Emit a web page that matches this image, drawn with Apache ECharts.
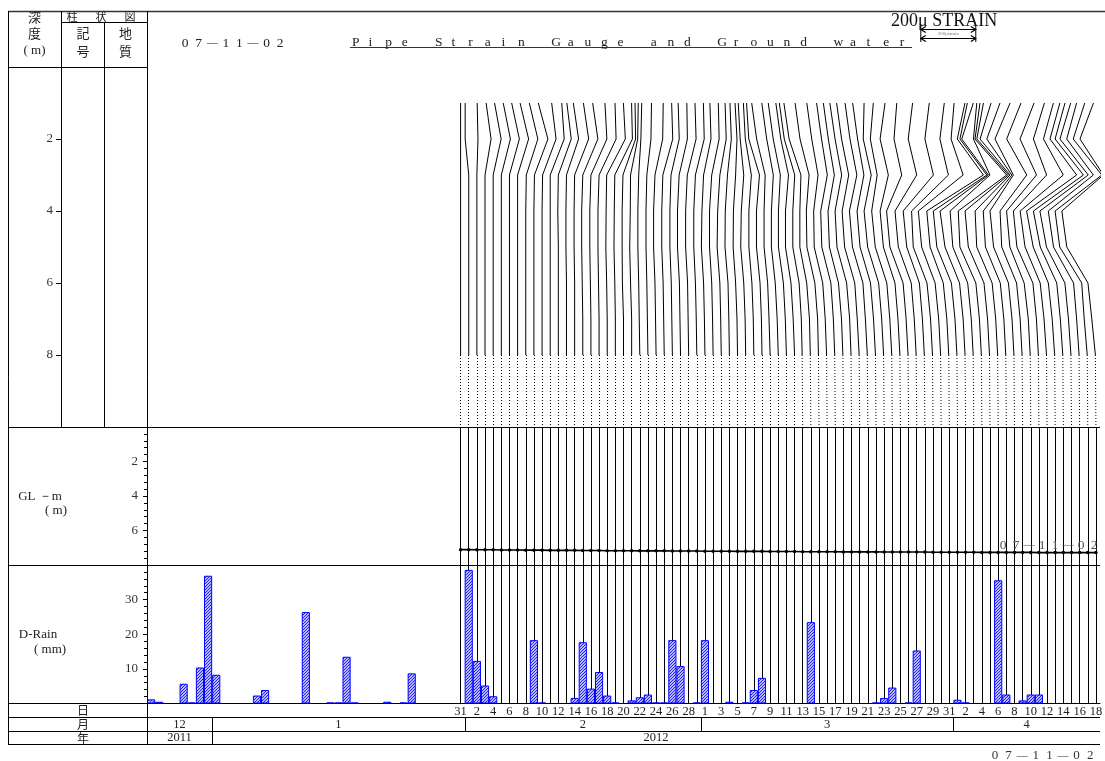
<!DOCTYPE html>
<html><head><meta charset="utf-8">
<script src="https://cdn.jsdelivr.net/npm/echarts@6/dist/echarts.min.js"></script>
<style>html,body{margin:0;padding:0;background:#fff}#c{width:1105px;height:761px}</style>
</head><body><div id="c"></div>
<script>
// ---------------- data ----------------
const startYear = 2011, startMonth = 11, startDay = 24;   // 2011-12-24 (JS month 11 = Dec)
const dayCount = 117;                                      // through 2012-04-18
const strainStart = 38;                                    // day index of 2012-01-31, first gauge reading
const gaugeDepths = [1, 2, 3, 4, 5, 6, 7, 8];              // m
const baseDepth = 10;                                      // m
const scale200uDays = 6.75;                                // width of 200 micro-strain in day units
const scaleStartDay = 95.0;

// daily rainfall (mm), 2011-12-24 ... 2012-04-18
const rain = [1.2,0.5,0,0,5.7,0.3,10.4,36.9,8.3,0,
  0,0,0,2.3,3.9,0,0,0,0,26.4,
  0,0,0.3,0.3,13.5,0.3,0,0,0,0.5,
  0,0.3,8.7,0,0,0,0,0,0,38.6,
  12.3,5.2,2.1,0,0,0,0,18.3,0.3,0,
  0,0,1.6,17.7,4.3,9.1,2.3,0.3,0,0.9,
  1.8,2.6,0.3,0.3,18.3,10.8,0,0.3,18.3,0,
  0,0.5,0,0.3,3.9,7.4,0,0,0,0,
  0,23.5,0,0,0,0,0,0,0,0.3,
  1.6,4.6,0,0.3,15.3,0,0,0,0,1.1,
  0.3,0,0,0,35.6,2.6,0,0.9,2.6,2.6,
  0,0,0,0,0,0,0];

// ground water level (GL -m), one per reading day 2012-01-31 ... 2012-04-18
const groundWater = [7.11,7.11,7.12,7.12,7.12,7.13,7.13,7.13,7.14,7.14,
  7.14,7.15,7.15,7.15,7.15,7.16,7.16,7.16,7.17,7.17,
  7.17,7.17,7.18,7.18,7.18,7.18,7.19,7.19,7.19,7.19,
  7.20,7.20,7.20,7.20,7.21,7.21,7.21,7.21,7.22,7.22,
  7.22,7.22,7.23,7.23,7.23,7.23,7.23,7.24,7.24,7.24,
  7.24,7.24,7.25,7.25,7.25,7.25,7.25,7.25,7.26,7.26,
  7.26,7.26,7.26,7.26,7.27,7.27,7.27,7.27,7.27,7.27,
  7.27,7.28,7.28,7.28,7.28,7.28,7.28,7.28,7.28];

// pipe strain (micro strain) per gauge depth, one value per reading day
const strain1m = [0,-13,1,4,5,7,8,9,13,16, 35,42,31,25,32,36,51,58,59,59, 42,24,7,13,26,27,21,23,23,24,
  18,19,14,2,-9,-27,-38,-56,-67,-60, -66,-68,-85,-98,-87,-74,-68,-73,-79,-84, -83,-85,-73,-69,-56,-43,-15,16,41,47,
  57,36,28,11,-7,-24,-26,-23,-16,-6, 12,20,23,17,6,-3,-11,-11,-9];
const strain2m = [0,-13,4,22,29,33,36,40,44,51, 51,51,47,44,51,55,58,62,66,62, 44,22,4,11,24,31,25,25,27,27,
  22,22,18,7,-2,-20,-31,-48,-49,-42, -48,-50,-67,-79,-69,-56,-50,-55,-60,-66, -65,-67,-76,-80,-74,-53,-31,0,25,36,
  29,9,-14,-1,-25,-48,-66,-71,-71,-58, -39,-20,-13,-19,-30,-42,-47,-53,-58];
const strain3m = [0,0,0,0,0,0,0,0,2,2, 2,0,0,0,0,0,0,0,-2,-2, -2,-4,-4,-4,-4,-5,-5,-5,-5,-5,
  -5,-5,-5,-7,-7,-7,-9,-9,-18,-18, -22,-22,-29,-36,-36,-33,-29,-33,-36,-40, -40,-44,-47,-55,-44,-25,0,31,56,80,
  124,107,83,59,90,67,43,20,-4,15, 21,28,59,78,73,61,50,51,27];
const strain4m = [0,0,0,0,0,0,0,0,0,0, 0,0,-2,-2,-2,-4,-4,-4,-4,-4, -5,-5,-7,-7,-9,-9,-9,-11,-11,-11,
  -11,-13,-13,-15,-15,-16,-18,-20,-22,-25, -29,-33,-36,-40,-46,-49,-53,-56,-60,-64, -67,-69,-73,-75,-74,-80,-79,-79,-78,-83,
  -82,-88,-93,-86,-86,-91,-84,-84,-89,-82, -88,-93,-98,-104,-109,-115,-114,-119,-124];
const strain5m = [0,0,0,0,0,0,0,0,0,0, 0,0,0,-2,-2,-4,-4,-4,-5,-5, -5,-7,-7,-7,-9,-9,-9,-11,-11,-11,
  -13,-13,-15,-16,-16,-18,-18,-20,-22,-25, -29,-33,-36,-40,-44,-47,-49,-51,-53,-55, -56,-58,-60,-62,-62,-68,-67,-66,-72,-71,
  -70,-75,-75,-76,-80,-79,-78,-76,-76,-76, -76,-80,-80,-80,-84,-91,-95,-102,-106];
const strain6m = [0,0,0,0,0,0,0,0,0,0, 0,0,0,0,0,-2,-2,-2,-2,-2, -4,-4,-4,-4,-4,-4,-4,-4,-4,-5,
  -5,-5,-5,-5,-7,-7,-7,-7,-9,-11, -11,-13,-13,-15,-15,-16,-16,-18,-18,-18, -18,-20,-20,-20,-20,-20,-20,-20,-22,-22,
  -22,-22,-22,-22,-22,-22,-22,-22,-22,-22, -24,-22,-25,-25,-24,-24,-22,-22,-29];
const strain7m = [0,0,0,0,0,0,0,0,0,0, 0,0,0,0,0,0,0,0,0,0, 0,0,-2,-2,-2,-2,-2,-2,-2,-2,
  -2,-2,-2,-2,-2,-2,-2,-2,-4,-4, -4,-5,-5,-5,-5,-7,-7,-7,-7,-9, -9,-9,-9,-9,-9,-9,-9,-9,-9,-9,
  -9,-9,-9,-9,-9,-9,-9,-9,-9,-9, -9,-9,-11,-11,-11,-11,-11,-13,-15];
const strain8m = [0,0,0,0,0,0,0,0,0,0, 0,0,0,0,0,0,0,0,0,0, 0,0,0,0,0,0,0,0,0,0,
  0,0,0,0,0,0,0,0,0,0, 0,0,-2,-2,-2,-2,-2,-2,-2,-2, -2,-2,-2,-2,-2,-2,-2,-2,-2,-2,
  -2,-2,-2,-2,-2,-2,-2,-2,-2,-2, -2,-2,-2,-2,-2,-2,-2,-2,-2];

const depthTicks = {min: 0, max: 10, interval: 2};
const gwTicks = {min: 0, max: 8, interval: 2};
const rainTicks = {min: 0, max: 40, interval: 10};
const titleCode = ['0','7','—','1','1','—','0','2'];
const titleText = 'Pipe Strain Gauge and Ground water';

// ---------------- derived ----------------
const dates = [];
for (let i = 0; i < dayCount; i++) dates.push(new Date(startYear, startMonth, startDay + i));
const dayLabels = dates.map(d => String(d.getDate()));
function spans(keyFn) {
  const out = [];
  dates.forEach((d, i) => {
    const k = keyFn(d);
    if (!out.length || out[out.length - 1].label !== k) out.push({label: k, start: i, end: i + 1});
    else out[out.length - 1].end = i + 1;
  });
  return out;
}
const monthSpans = spans(d => String(d.getMonth() + 1));
const yearSpans = spans(d => String(d.getFullYear()));

const strainByDepth = [strain1m, strain2m, strain3m, strain4m, strain5m, strain6m, strain7m, strain8m];
const lineX = j => strainStart + j + 0.5;
const toX = (j, u) => lineX(j) + u / 200 * scale200uDays;
const solidLines = [], dottedLines = [], gwVert = [], rainVert = [];
for (let j = 0; j < strain1m.length; j++) {
  const coords = gaugeDepths.map((d, k) => [toX(j, strainByDepth[k][j]), d]);
  solidLines.push({coords});
  dottedLines.push({coords: [coords[coords.length - 1], [lineX(j), baseDepth]]});
  gwVert.push({coords: [[lineX(j), gwTicks.min], [lineX(j), gwTicks.max]]});
  rainVert.push({coords: [[lineX(j), rainTicks.min], [lineX(j), rainTicks.max]]});
}

// hatch pattern for rain bars
const hatch = document.createElement('canvas');
hatch.width = 3; hatch.height = 3;
(function () {
  const g = hatch.getContext('2d');
  g.fillStyle = '#b8b8ff'; g.fillRect(0, 0, 3, 3);
  g.fillStyle = '#2222ff';
  g.fillRect(0, 2, 1, 1); g.fillRect(1, 1, 1, 1); g.fillRect(2, 0, 1, 1);
})();

const SERIF = '"Liberation Serif","DejaVu Serif",serif';
const JP = '"Noto Sans CJK JP",sans-serif';
const labelStyle = {fontFamily: SERIF, fontSize: 13, color: '#333'};

function rowRender(list) {
  return function (params, api) {
    const a = api.coord([api.value(0), 1]);
    const b = api.coord([api.value(1), 0]);
    const ch = [];
    if (api.value(0) > 0) {
      const x = Math.round(a[0]) + 0.5;
      ch.push({type: 'line', shape: {x1: x, y1: a[1], x2: x, y2: b[1]}, style: {stroke: '#000', lineWidth: 1}});
    }
    ch.push({type: 'text', style: {text: list[params.dataIndex].label, x: (a[0] + b[0]) / 2, y: (a[1] + b[1]) / 2 + 0.5,
      font: '12.5px ' + SERIF, fill: '#222', align: 'center', verticalAlign: 'middle', textAlign: 'center', textVerticalAlign: 'middle'}});
    return {type: 'group', children: ch};
  };
}

const gridBase = {left: 147, width: 953, containLabel: false, outerBoundsMode: 'none'};
const option = {
  animation: false,
  backgroundColor: '#fff',
  grid: [
    Object.assign({top: 67, height: 360}, gridBase),
    Object.assign({top: 427, height: 138}, gridBase),
    Object.assign({top: 565, height: 138.5}, gridBase),
    Object.assign({top: 717, height: 14}, gridBase),
    Object.assign({top: 731, height: 13}, gridBase),
    {left: 61, width: 86, top: 67, height: 360, containLabel: false, outerBoundsMode: 'none'}   // depth scale column
  ],
  xAxis: [
    {gridIndex: 0, type: 'value', min: 0, max: dayCount, show: false},
    {gridIndex: 1, type: 'value', min: 0, max: dayCount, show: false},
    {gridIndex: 2, type: 'category', data: dayLabels, boundaryGap: true, position: 'bottom',
      axisLine: {lineStyle: {color: '#000', width: 1}}, axisTick: {show: false},
      axisLabel: {interval: (i) => i >= strainStart && (i - strainStart) % 2 === 0, margin: 2,
        fontFamily: SERIF, fontSize: 12.5, color: '#222'}},
    {gridIndex: 2, type: 'value', min: 0, max: dayCount, show: false, position: 'top'},
    {gridIndex: 3, type: 'value', min: 0, max: dayCount, show: false},
    {gridIndex: 4, type: 'value', min: 0, max: dayCount, show: false},
    {gridIndex: 5, type: 'value', min: 0, max: 1, show: false}
  ],
  yAxis: [
    {gridIndex: 0, type: 'value', min: depthTicks.min, max: depthTicks.max, inverse: true, show: false},
    {gridIndex: 1, type: 'value', min: gwTicks.min, max: gwTicks.max, interval: gwTicks.interval, inverse: true,
      axisLine: {show: true, lineStyle: {color: '#000'}}, axisTick: {show: true, length: 4, lineStyle: {color: '#000'}},
      minorTick: {show: true, splitNumber: 5, length: 3, lineStyle: {color: '#000'}},
      splitLine: {show: false},
      axisLabel: Object.assign({margin: 9, formatter: v => (v === gwTicks.min || v === gwTicks.max) ? '' : String(v)}, labelStyle)},
    {gridIndex: 2, type: 'value', min: rainTicks.min, max: rainTicks.max, interval: rainTicks.interval,
      axisLine: {show: true, lineStyle: {color: '#000'}}, axisTick: {show: true, length: 4, lineStyle: {color: '#000'}},
      minorTick: {show: true, splitNumber: 5, length: 3, lineStyle: {color: '#000'}},
      splitLine: {show: false},
      axisLabel: Object.assign({margin: 9, formatter: v => (v === rainTicks.min || v === rainTicks.max) ? '' : String(v)}, labelStyle)},
    {gridIndex: 3, type: 'value', min: 0, max: 1, show: false},
    {gridIndex: 4, type: 'value', min: 0, max: 1, show: false},
    {gridIndex: 5, type: 'value', min: depthTicks.min, max: depthTicks.max, interval: depthTicks.interval, inverse: true,
      position: 'left',
      axisLine: {show: true, lineStyle: {color: '#000'}}, axisTick: {show: true, length: 5, lineStyle: {color: '#000'}},
      splitLine: {show: false},
      axisLabel: Object.assign({margin: 8, formatter: v => (v === depthTicks.min || v === depthTicks.max) ? '' : String(v)}, labelStyle)}
  ],
  series: [
    {type: 'lines', name: 'strain', coordinateSystem: 'cartesian2d', xAxisIndex: 0, yAxisIndex: 0, polyline: true,
      data: solidLines, lineStyle: {color: '#000', width: 1, opacity: 1}, silent: true, z: 3},
    {type: 'lines', name: 'strain-base', coordinateSystem: 'cartesian2d', xAxisIndex: 0, yAxisIndex: 0, polyline: false,
      data: dottedLines, lineStyle: {color: '#000', width: 1, opacity: 1, type: [1, 2]}, silent: true, z: 3},
    {type: 'lines', name: 'gw-days', coordinateSystem: 'cartesian2d', xAxisIndex: 1, yAxisIndex: 1,
      data: gwVert, lineStyle: {color: '#000', width: 1, opacity: 1}, silent: true, z: 2},
    {type: 'line', name: 'groundwater', xAxisIndex: 1, yAxisIndex: 1,
      data: groundWater.map((v, j) => [lineX(j), v]), symbol: 'circle', symbolSize: 3.5, showSymbol: true,
      lineStyle: {color: '#000', width: 1.6}, itemStyle: {color: '#000'}, silent: true, z: 5},
    {type: 'lines', name: 'rain-days', coordinateSystem: 'cartesian2d', xAxisIndex: 3, yAxisIndex: 2,
      data: rainVert, lineStyle: {color: '#000', width: 1, opacity: 1}, silent: true, z: 1},
    {type: 'bar', name: 'D-Rain', xAxisIndex: 2, yAxisIndex: 2, barCategoryGap: '0%',
      data: rain.map(v => v > 0 ? v : '-'),
      itemStyle: {color: {image: hatch, repeat: 'repeat'}, borderColor: '#0000ff', borderWidth: 1}, silent: true, z: 4},
    {type: 'custom', name: 'month', xAxisIndex: 4, yAxisIndex: 3, data: monthSpans.map(s => [s.start, s.end]),
      renderItem: rowRender(monthSpans), silent: true},
    {type: 'custom', name: 'year', xAxisIndex: 5, yAxisIndex: 4, data: yearSpans.map(s => [s.start, s.end]),
      renderItem: rowRender(yearSpans), silent: true}
  ]
};

const chart = echarts.init(document.getElementById('c'), null, {renderer: 'canvas', width: 1105, height: 761});
chart.setOption(option);

// ---------------- frame, headings ----------------
function L(x1, y1, x2, y2, w, c) {
  return {type: 'line', shape: {x1, y1, x2, y2}, style: {stroke: c || '#000', lineWidth: w || 1}, silent: true, z: 50};
}
function T(text, x, y, font, align, color) {
  return {type: 'text', style: {text, x, y, font, fill: color || '#222', align: align || 'center', verticalAlign: 'middle',
    textAlign: align || 'center', textVerticalAlign: 'middle'}, silent: true, z: 60};
}
const g = [];
g.push(L(8, 11.5, 1105, 11.5, 1.5, '#333'));
g.push(L(8.5, 11, 8.5, 744.5));
g.push(L(147.5, 11, 147.5, 744.5));
g.push(L(61.5, 11, 61.5, 67.5));
g.push(L(104.5, 22, 104.5, 427));
g.push(L(61, 22.5, 147, 22.5));
g.push(L(8, 67.5, 147, 67.5));
g.push(L(8, 427.5, 1100, 427.5));
g.push(L(8, 565.5, 1100, 565.5));
g.push(L(8, 703.5, 147, 703.5));
g.push(L(8, 717.5, 1100, 717.5));
g.push(L(8, 731.5, 1100, 731.5));
g.push(L(8, 744.5, 1100, 744.5));

const jp13 = '13px ' + JP, jp11 = '11px ' + JP, jp12 = '12px ' + JP;
g.push(T('深', 34.5, 17, jp13), T('度', 34.5, 33.5, jp13), T('( m)', 34.5, 51, '13px ' + SERIF));
g.push(T('柱', 72, 16.5, jp11), T('状', 101, 16.5, jp11), T('図', 130, 16.5, jp11));
g.push(T('記', 83, 33.5, jp13), T('号', 83, 51, jp13), T('地', 125.5, 33.5, jp13), T('質', 125.5, 51, jp13));
titleCode.forEach((ch, k) => g.push(T(ch, 185 + k * 13.6, 43, (ch === '—' ? '11px ' : '13.5px ') + SERIF)));
titleText.split('').forEach((ch, k) => { if (ch !== ' ') g.push(T(ch, 352 + k * 16.6, 42, '13.5px ' + SERIF, 'left')); });
g.push(L(350, 47.5, 912, 47.5, 1, '#333'));
g.push(T('200μ STRAIN', 891, 21, '18px ' + SERIF, 'left', '#111'));

const xa = chart.convertToPixel({xAxisIndex: 0}, scaleStartDay);
const xb = chart.convertToPixel({xAxisIndex: 0}, scaleStartDay + scale200uDays);
[29.5, 38.5].forEach(y => {
  g.push(L(xa, y, xb, y, 1.2));
  g.push({type: 'polyline', shape: {points: [[xa + 5, y - 3], [xa, y], [xa + 5, y + 3]]}, style: {stroke: '#000', lineWidth: 1.2, fill: null}, silent: true, z: 50});
  g.push({type: 'polyline', shape: {points: [[xb - 5, y - 3], [xb, y], [xb - 5, y + 3]]}, style: {stroke: '#000', lineWidth: 1.2, fill: null}, silent: true, z: 50});
});
g.push(L(xa, 26, xa, 42, 1), L(xb, 26, xb, 42, 1));
g.push(T('200μstrain', (xa + xb) / 2, 33.5, '5px ' + SERIF, 'center', '#777'));

g.push(T('GL －m', 40, 497, '13px ' + SERIF), T('( m)', 56, 511, '13px ' + SERIF));
g.push(T('D-Rain', 38, 635, '13px ' + SERIF), T('( mm)', 50, 650, '13px ' + SERIF));
g.push(T('日', 83, 710.5, jp12), T('月', 83, 724.5, jp12), T('年', 83, 738, jp12));
titleCode.forEach((ch, k) => g.push(T(ch, 1003 + k * 13, 545, (ch === '—' ? '11px ' : '13.5px ') + SERIF, 'center', '#555')));
titleCode.forEach((ch, k) => g.push(T(ch, 995 + k * 13.6, 756, (ch === '—' ? '11px ' : '13px ') + SERIF, 'center', '#333')));

chart.setOption({graphic: {elements: g}});
</script>
</body></html>
